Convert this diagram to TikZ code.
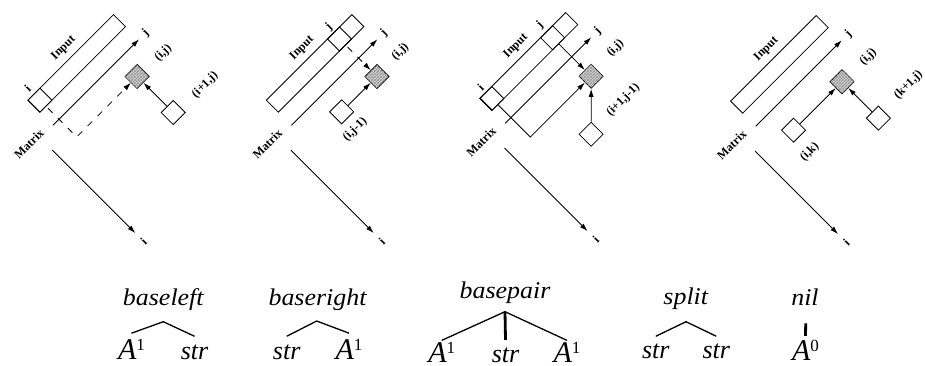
\documentclass[tikz,border=0pt]{standalone}
\usepackage{fontspec}
\setmainfont{Liberation Serif}
\newfontfamily\treefont[FakeStretch=1.08]{Liberation Serif}
\usepackage{tikz}
\usetikzlibrary{arrows.meta,patterns,positioning}
\tikzset{
  barcell/.style={draw, rotate=45, minimum size=17pt, inner sep=0pt},
  cellbox/.style={draw, fill=white, rotate=45, minimum size=17pt, inner sep=0pt},
  hotcell/.style={cellbox, fill=gray!30,
    postaction={pattern=crosshatch, pattern color=gray!85}},
  dlabel/.style={rotate=45, inner sep=0pt,
    font=\fontsize{12}{13}\selectfont\bfseries},
  axislabel/.style={dlabel, inner sep=7pt},
  dep/.style={-{Latex[length=8pt,width=5pt]}},
  depdash/.style={dep, dash pattern=on 6.5pt off 7.5pt, dash phase=11.5pt},
  treelabel/.style={anchor=base, inner sep=0pt,
    font=\treefont\fontsize{24}{26}\selectfont\itshape},
  leaf/.style={anchor=base, inner sep=0pt,
    font=\fontsize{26}{28}\selectfont\itshape},
  treeleg/.style={line width=1.3pt},
  treestem/.style={line width=2.8pt},
}
% A with its superscript, as a tree leaf
\newcommand{\Aleaf}[1]{{\fontsize{30}{31}\selectfont A}%
  \raisebox{9pt}{\fontsize{17}{18}\selectfont\upshape #1}}
% input string above the DP matrix, both axes, labels
\newcommand{\dpframe}[1]{%
  \draw (18,-35.5) rectangle (139,-18.5);
  \node[dlabel] (#1-input) at (80,-47) {Input};
  \node[dlabel] (#1-matrix) at (-12,-4) {Matrix};
  \coordinate (#1-jfoot) at (18,0);
  \coordinate (#1-ifoot) at (0,17);
  \node[axislabel] (#1-jaxis) at (149,0) {j};
  \node[axislabel] (#1-iaxis) at (0,146) {i};
  \draw[dep] (#1-jfoot) -- (#1-jaxis);
  \draw[dep] (#1-ifoot) -- (#1-iaxis);
}

\begin{document}
\begin{tikzpicture}[x=1pt, y=-1pt, line width=0.8pt]
\fill[white] (0,0) rectangle (925,365);
\useasboundingbox (0,0) rectangle (925,365);

%% baseleft
\begin{scope}[shift={(40.3,138)}, rotate=45]
  \dpframe{p1}
  \node[barcell] (p1-ci) at (26.5,-27) {};
  \node[dlabel] (p1-ilab) at (26,-44) {i};
  \node[hotcell] (p1-ij) at (112,25) {};
  \node[cellbox] (p1-down) at (112,76) {};
  \coordinate (p1-bend) at (26.5,25);
  \draw[depdash] (p1-ci.south) -- (p1-bend) -- (p1-ij);
  \draw[dep] (p1-down) -- (p1-ij);
  \node[dlabel] (p1-ijlab) at (147,27) {(i,j)};
  \node[dlabel] (p1-downlab) at (154,79) {(i+1,j)};
\end{scope}

%% baseright
\begin{scope}[shift={(278.7,138)}, rotate=45]
  \dpframe{p2}
  \node[barcell] (p2-cj) at (113,-27) {};
  \node[dlabel] (p2-jlab) at (114,-43) {j};
  \node[hotcell] (p2-ij) at (113,26) {};
  \node[cellbox] (p2-left) at (63,26) {};
  \draw[depdash] (p2-cj.south) -- (p2-ij);
  \draw[dep] (p2-left) -- (p2-ij);
  \node[dlabel] (p2-ijlab) at (147,25) {(i,j)};
  \node[dlabel] (p2-leftlab) at (60,48) {(i,j-1)};
\end{scope}

%% basepair
\begin{scope}[shift={(492.5,136)}, rotate=45]
  \dpframe{p3}
  \node[barcell] (p3-ci) at (26,-27) {};
  \node[barcell] (p3-cj) at (112,-27) {};
  \node[dlabel] (p3-ilab) at (26,-43) {i};
  \node[dlabel] (p3-jlab) at (112,-45) {j};
  \node[hotcell] (p3-ij) at (112,27.5) {};
  \node[cellbox] (p3-diag) at (71,68.5) {};
  \coordinate (p3-bend) at (26,27.5);
  \draw[dep] (p3-ci.south) -- (p3-bend) -- (p3-ij);
  \draw[dep] (p3-cj.south) -- (p3-ij);
  \draw[dep] (p3-diag) -- (p3-ij);
  \node[dlabel] (p3-ijlab) at (149,25) {(i,j)};
  \node[dlabel] (p3-diaglab) at (118,67) {(i+1,j-1)};
\end{scope}

%% split
\begin{scope}[shift={(743,139)}, rotate=45]
  \dpframe{p4}
  \node[hotcell] (p4-ij) at (110.5,29.5) {};
  \node[cellbox] (p4-ik) at (42,29.5) {};
  \node[cellbox] (p4-kj) at (110.5,81) {};
  \draw[dep] (p4-ik) -- (p4-ij);
  \draw[dep] (p4-kj) -- (p4-ij);
  \node[dlabel] (p4-ijlab) at (146.6,30.5) {(i,j)};
  \node[dlabel] (p4-iklab) at (38,56.4) {(i,k)};
  \node[dlabel] (p4-kjlab) at (155,79) {(k+1,j)};
\end{scope}

%% Trees
\node[treelabel] (bl-name) at (163.3,305) {baseleft};
\coordinate (bl-top) at (163.3,321.7);
\node[leaf] (bl-a) at (131.5,359.3) {\Aleaf{1}};
\node[leaf] (bl-s) at (194.5,359.3) {str};
\draw[treeleg] ([yshift=5.5pt]bl-a.north) -- (bl-top) -- ([yshift=8pt]bl-s.north);

\node[treelabel] (br-name) at (317.5,305) {baseright};
\coordinate (br-top) at (316.7,321);
\node[leaf] (br-s) at (286.7,359.3) {str};
\node[leaf] (br-a) at (349,359.3) {\Aleaf{1}};
\draw[treeleg] ([yshift=8pt]br-s.north) -- (br-top) -- ([yshift=5.5pt]br-a.north);

\node[treelabel] (bp-name) at (505,298.5) {basepair};
\coordinate (bp-top) at (505,311.7);
\node[leaf] (bp-a) at (441.7,362) {\Aleaf{1}};
\node[leaf] (bp-s) at (505.5,362) {str};
\node[leaf] (bp-b) at (567,362) {\Aleaf{1}};
\draw[treeleg] ([yshift=1pt]bp-a.north) -- (bp-top) -- ([yshift=1pt]bp-b.north);
\draw[treestem] (bp-top) -- ([yshift=7pt]bp-s.north);

\node[treelabel] (sp-name) at (685.8,304) {split};
\coordinate (sp-top) at (686,321.7);
\node[leaf] (sp-s) at (655.8,358.3) {str};
\node[leaf] (sp-t) at (716.3,358.3) {str};
\draw[treeleg] ([yshift=7pt]sp-s.north) -- (sp-top) -- ([yshift=7pt]sp-t.north);

\node[treelabel] (nl-name) at (805,305) {nil};
\coordinate (nl-top) at (805.7,323.3);
\node[leaf] (nl-a) at (805.5,360) {\Aleaf{0}};
\draw[treestem] (nl-top) -- ([yshift=3.5pt]nl-a.north);
\end{tikzpicture}
\end{document}
